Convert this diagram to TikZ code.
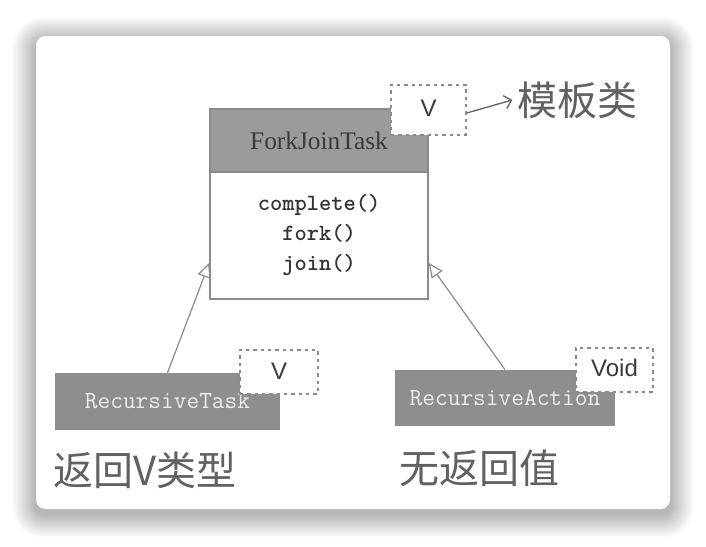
\documentclass[tikz,border=0pt]{standalone}
\usepackage{fontspec}
\setmainfont{Liberation Serif}
\setsansfont{Liberation Sans}
\newfontfamily\handfont{Noto Sans CJK SC}
\usetikzlibrary{arrows.meta}
\definecolor{kopf}{HTML}{9B9B9B}
\definecolor{unter}{HTML}{8E8E8E}
\definecolor{rand}{HTML}{8A8A8A}
\definecolor{tinte}{HTML}{3A3A3A}
\tikzset{
  klassenkopf/.style={draw=rand, line width=1pt, fill=kopf, inner sep=0pt, minimum width=163.5pt,
    minimum height=47.25pt, text=tinte, font=\fontsize{19}{22}\selectfont},
  klassenrumpf/.style={draw=rand, line width=1pt, fill=white, inner sep=0pt, minimum width=163.5pt,
    minimum height=95.25pt, align=center, text=black!80, font=\ttfamily\bfseries\fontsize{17.5}{22.5}\selectfont},
  unterklasse/.style={fill=unter, inner sep=0pt, text=white!93!black, font=\ttfamily\fontsize{18.5}{19}\selectfont},
  vorlage/.style={draw=rand, fill=white, line width=1pt, dash pattern=on 2.5pt off 3pt, inner sep=0pt,
    text=tinte, font=\sffamily\fontsize{18}{20}\selectfont},
  notiz/.style={text=black!62, font=\handfont\fontsize{30}{32}\selectfont},
  erbt/.style={draw=rand, line width=0.9pt, -{Triangle[open, length=11pt, width=10pt]}},
}
\begin{document}
\begin{tikzpicture}[x=0.75pt,y=-0.75pt]
  \useasboundingbox (0,0) rectangle (706,546);
  \fill[white] (0,0) rectangle (706,546);
  % Karte mit weichem Schatten
  \foreach \i in {1,...,24}
    \fill[black, opacity=0.011, rounded corners=\i*0.75pt+6pt] (36-\i,36-\i+5) rectangle (670+\i,509+\i+5);
  \fill[white, rounded corners=7pt] (36,36) rectangle (670,509);
  % Oberklasse
  \node[klassenkopf] (fjtKopf) at (319,140.5) {\raisebox{-3pt}{ForkJoinTask}};
  \node[klassenrumpf] (fjtRumpf) at (319,235.5) {complete()\\fork()\\join()};
  % Unterklassen
  \node[unterklasse, minimum width=168.75pt, minimum height=42.75pt] (rTask) at (167.5,401.5) {\raisebox{-2pt}{RecursiveTask}};
  \node[unterklasse, minimum width=165pt, minimum height=42pt] (rAction) at (505,398) {\raisebox{-2pt}{RecursiveAction}};
  % Typparameter
  \node[vorlage, minimum width=56.25pt, minimum height=37.5pt] (tplFjt) at (428.5,110) {\raisebox{2pt}{V}};
  \node[vorlage, minimum width=58.5pt, minimum height=33pt] (tplTask) at (279,372) {\raisebox{1pt}{V}};
  \node[vorlage, minimum width=57.75pt, minimum height=33pt] (tplAction) at (614.5,370) {\raisebox{3pt}{Void}};
  \draw[erbt] (rTask.north) -- (fjtRumpf.194);
  \draw[erbt] (rAction.north) -- (fjtRumpf.-14);
  % handschriftliche Notizen
  \node[notiz] (notizTpl) at (577,100) {模板类};
  \draw[draw=black!60, line width=1pt, -{Straight Barb[length=5pt]}] (tplFjt.east) ++(0,3) -- (notizTpl.west);
  \node[notiz] (notizTask) at (145,470) {返回V类型};
  \node[notiz] (notizAction) at (479,468) {无返回值};
\end{tikzpicture}
\end{document}
